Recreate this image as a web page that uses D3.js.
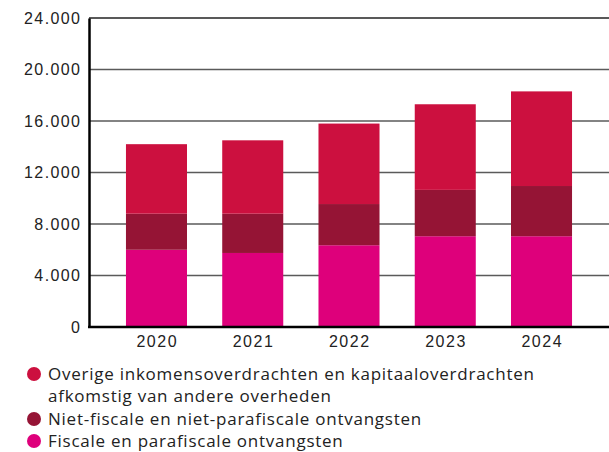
<!DOCTYPE html>
<html>
<head>
<meta charset="utf-8">
<script src="https://cdn.jsdelivr.net/npm/d3@7"></script>
<style>
  body { margin: 0; background: #fff; }
  svg { display: block; font-family: "Open Sans", "Noto Sans", sans-serif; }
</style>
</head>
<body>
<div id="chart"></div>
<script>
// data
const years = ['2020', '2021', '2022', '2023', '2024'];
const fiscale = [6000, 5750, 6350, 7050, 7050];
const nietFiscale = [2800, 3050, 3200, 3600, 3900];
const overige = [5400, 5700, 6250, 6650, 7350];
const yTicks = [0, 4000, 8000, 12000, 16000, 20000, 24000];

const seriesNames = [
    'Fiscale en parafiscale ontvangsten',
    'Niet-fiscale en niet-parafiscale ontvangsten',
    'Overige inkomensoverdrachten en kapitaaloverdrachten afkomstig van andere overheden'
];
const colors = ['#de007b', '#951435', '#cc103f'];

const width = 609, height = 452;
const margin = { top: 18, right: 0, bottom: 125, left: 89 };

const svg = d3.select('#chart').append('svg')
    .attr('width', width)
    .attr('height', height);

const x = d3.scaleBand()
    .domain(years)
    .range([margin.left, width - margin.right])
    .paddingInner(0.366)
    .paddingOuter(0.384);

const y = d3.scaleLinear()
    .domain([0, 24000])
    .range([height - margin.bottom, margin.top]);

// gridlines
svg.append('g')
    .selectAll('line')
    .data(yTicks.filter(d => d > 0))
    .join('line')
    .attr('x1', margin.left)
    .attr('x2', width)
    .attr('y1', d => y(d))
    .attr('y2', d => y(d))
    .attr('stroke', d => d === 24000 ? '#222' : '#5a5a5a')
    .attr('stroke-width', 1.5);

// stacked bars
const rows = years.map((yr, i) => ({ year: yr, s0: fiscale[i], s1: nietFiscale[i], s2: overige[i] }));
const stack = d3.stack().keys(['s0', 's1', 's2'])(rows);

svg.append('g')
    .selectAll('g')
    .data(stack)
    .join('g')
    .attr('fill', (d, i) => colors[i])
    .selectAll('rect')
    .data(d => d)
    .join('rect')
    .attr('x', d => x(d.data.year))
    .attr('width', x.bandwidth())
    .attr('y', d => y(d[1]))
    .attr('height', d => y(d[0]) - y(d[1]));

// y axis
const yAxis = svg.append('g')
    .attr('transform', `translate(${margin.left},0)`)
    .call(d3.axisLeft(y)
        .tickValues(yTicks)
        .tickSize(0)
        .tickPadding(7.6)
        .tickFormat(d => d3.format(',')(d).replace(/,/g, '.')));
yAxis.select('.domain').attr('stroke', '#000').attr('stroke-width', 2.5);
yAxis.selectAll('text')
    .attr('font-size', 16)
    .attr('letter-spacing', 1.4)
    .attr('fill', '#222');

// x axis
const xAxis = svg.append('g')
    .attr('transform', `translate(0,${y(0)})`)
    .call(d3.axisBottom(x).tickSize(0).tickPadding(9));
xAxis.select('.domain')
    .attr('d', `M${margin.left - 1},0H${width}`)
    .attr('stroke', '#000')
    .attr('stroke-width', 2.5);
xAxis.selectAll('text')
    .attr('font-size', 16)
    .attr('letter-spacing', 1.5)
    .attr('dx', 0.75)
    .attr('fill', '#222');

// legend
const legendItems = [
    { lines: ['Overige inkomensoverdrachten en kapitaaloverdrachten', 'afkomstig van andere overheden'], color: colors[2], y: 374 },
    { lines: ['Niet-fiscale en niet-parafiscale ontvangsten'], color: colors[1], y: 419 },
    { lines: ['Fiscale en parafiscale ontvangsten'], color: colors[0], y: 441 }
];

const legend = svg.append('g');
legendItems.forEach(item => {
    const g = legend.append('g').attr('transform', `translate(0,${item.y})`);
    g.append('circle')
        .attr('cx', 34)
        .attr('cy', 0)
        .attr('r', 7)
        .attr('fill', item.color);
    item.lines.forEach((line, j) => {
        g.append('text')
            .attr('x', 48)
            .attr('y', j * 22)
            .attr('dy', '0.35em')
            .attr('font-size', 17)
            .attr('letter-spacing', 0.75)
            .attr('fill', '#222')
            .text(line);
    });
});
</script>
</body>
</html>
